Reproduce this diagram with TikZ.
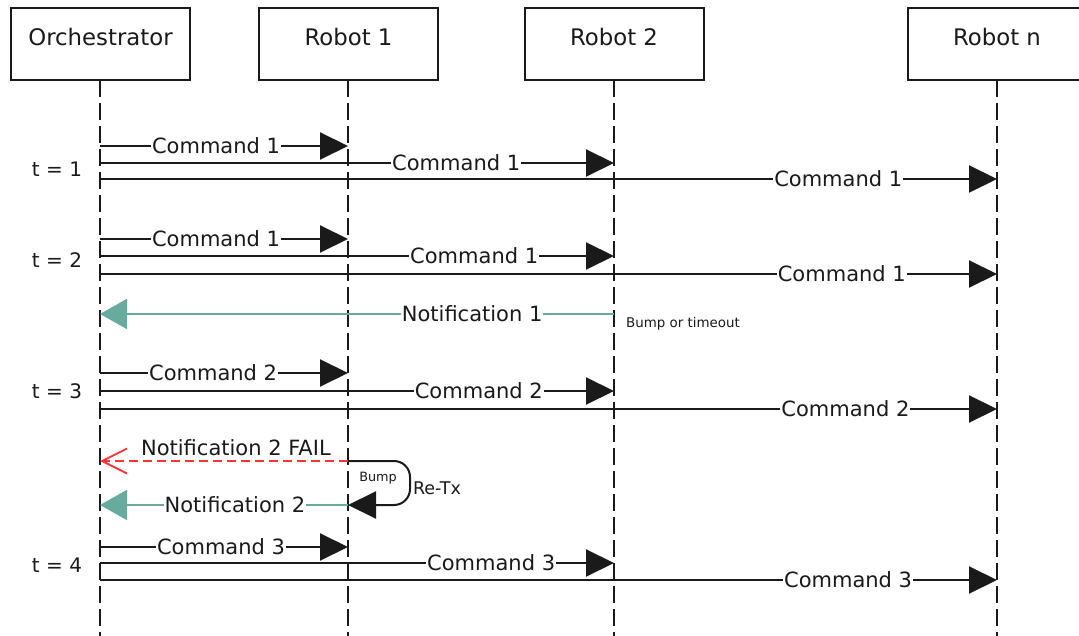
\documentclass[tikz,border=0pt]{standalone}
\usepackage{fontspec}
\setmainfont{DejaVu Sans}
\usetikzlibrary{arrows.meta}
\definecolor{notegreen}{HTML}{67AB9F}
\definecolor{failred}{HTML}{FF3333}
\definecolor{ink}{HTML}{1A1A1A}
\begin{document}
\begin{tikzpicture}[x=1pt,y=-1pt,
  actor/.style={draw=ink, line width=2pt, minimum width=179pt, minimum height=72pt, inner sep=0pt},
  head/.style={text=ink, inner sep=0pt, font=\fontsize{22.8}{24}\selectfont},
  life/.style={draw=ink, line width=2pt, dash pattern=on 17pt off 6pt},
  msg/.style={draw=ink, line width=2pt, -{Triangle[length=28pt,width=27pt]}},
  note/.style={draw=notegreen, line width=2pt, -{Triangle[length=27pt,width=30pt]}},
  fail/.style={draw=failred, line width=1.8pt, dash pattern=on 9pt off 5pt, -{Straight Barb[length=25pt,width=25pt]}},
  lbl/.style={fill=white, text=ink, inner sep=1pt, font=\fontsize{21}{22}\selectfont},
  tlbl/.style={text=ink, inner sep=0pt, font=\fontsize{20}{22}\selectfont},
  small/.style={text=ink, inner sep=0pt, font=\fontsize{13.4}{15}\selectfont}
]
\useasboundingbox (0,0) rectangle (1079,636);
\begin{scope}
\clip (0,0) rectangle (1079,636);
% actors
\node[actor] (orch) at (100.5,44) {};
\node[actor] (rb1) at (348.5,44) {};
\node[actor] (rb2) at (614,44) {};
\node[actor] (rbn) at (997,44) {};
\end{scope}
\node[head] (torch) at (100.5,37) {Orchestrator};
\node[head] (trb1) at (348.5,37) {Robot 1};
\node[head] (trb2) at (614,37) {Robot 2};
\node[head] (trbn) at (997,37) {Robot n};
% lifelines
\coordinate (O) at (100,80);
\coordinate (A) at (348,80);
\coordinate (B) at (614,80);
\coordinate (N) at (997,80);
\draw[life] (O) -- (O |- 0,636);
\draw[life] (A) -- (A |- 0,636);
\draw[life] (B) -- (B |- 0,636);
\draw[life] (N) -- (N |- 0,636);
% time labels
\node[tlbl] (t1) at (57,169) {t = 1};
\node[tlbl] (t2) at (57,260) {t = 2};
\node[tlbl] (t3) at (57,391) {t = 3};
\node[tlbl] (t4) at (57,565) {t = 4};
% t = 1
\draw[msg] (O |- 0,146) -- node[lbl, pos=0.468] (m11) {Command 1} (A |- 0,146);
\draw[msg] (O |- 0,163) -- node[lbl, pos=0.693] (m12) {Command 1} (B |- 0,163);
\draw[msg] (O |- 0,179) -- node[lbl, pos=0.823] (m13) {Command 1} (N |- 0,179);
% t = 2
\draw[msg] (O |- 0,239) -- node[lbl, pos=0.468] (m21) {Command 1} (A |- 0,239);
\draw[msg] (O |- 0,256) -- node[lbl, pos=0.728] (m22) {Command 1} (B |- 0,256);
\draw[msg] (O |- 0,274) -- node[lbl, pos=0.827] (m23) {Command 1} (N |- 0,274);
\draw[note] (B |- 0,314) -- node[lbl, pos=0.276] (n1) {Notification 1} (O |- 0,314);
\node[small, anchor=west] (bt) at (626,324) {Bump or timeout};
% t = 3
\draw[msg] (O |- 0,373) -- node[lbl, pos=0.456] (m31) {Command 2} (A |- 0,373);
\draw[msg] (O |- 0,391) -- node[lbl, pos=0.737] (m32) {Command 2} (B |- 0,391);
\draw[msg] (O |- 0,409) -- node[lbl, pos=0.831] (m33) {Command 2} (N |- 0,409);
% failure and retransmission
\draw[fail] (A |- 0,461) -- node[lbl, fill=none, pos=0.452, yshift=13pt] (f2) {Notification 2 FAIL} (O |- 0,461);
\draw[msg, rounded corners=16pt] (A |- 0,461) -- (410,461) -- (410,505) -- (A |- 0,505);
\node[small, font=\fontsize{12.8}{14}\selectfont] (bump) at (378,478) {Bump};
\node[tlbl, font=\fontsize{17.5}{19}\selectfont] (retx) at (437,488) {Re-Tx};
\draw[note] (A |- 0,505) -- node[lbl, pos=0.456] (n2) {Notification 2} (O |- 0,505);
% t = 4
\draw[msg] (O |- 0,547) -- node[lbl, pos=0.488] (m41) {Command 3} (A |- 0,547);
\draw[msg] (O |- 0,563) -- node[lbl, pos=0.761] (m42) {Command 3} (B |- 0,563);
\draw[msg] (O |- 0,580) -- node[lbl, pos=0.834] (m43) {Command 3} (N |- 0,580);
\end{tikzpicture}
\end{document}
